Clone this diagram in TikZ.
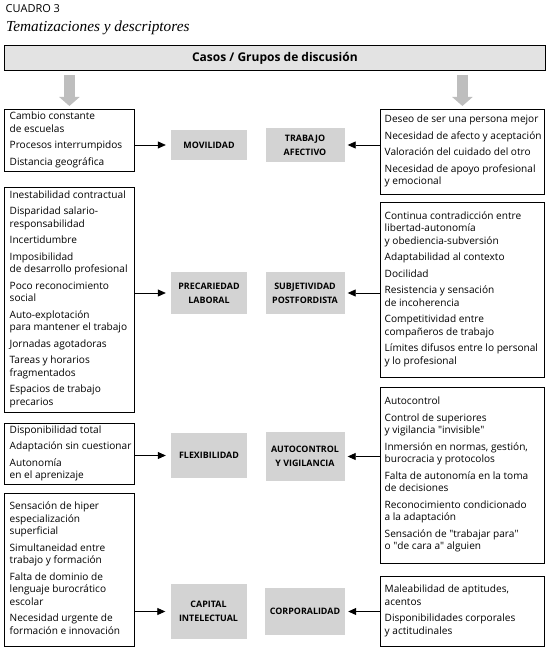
\documentclass[tikz,border=0pt]{standalone}
\usepackage{fontspec}
\setmainfont{Open Sans}
\newfontfamily\titlefont{Liberation Serif}
\usetikzlibrary{arrows.meta}
\definecolor{graybox}{RGB}{211,211,211}
\definecolor{headfill}{RGB}{227,227,227}
\definecolor{arrowgray}{RGB}{190,190,190}
\newcommand{\qd}{\textquotedbl}
\tikzset{
  listbox/.style={draw=black, line width=0.8pt, rectangle, inner sep=0pt, anchor=north west},
  listtext/.style={anchor=west, align=left, inner sep=0pt,
    font=\fontsize{10.1}{12.5}\selectfont,
    execute at begin node=\strut, execute at end node=\strut},
  themebox/.style={fill=graybox, draw=none, inner sep=0pt, align=center,
    font=\fontsize{8.9}{14}\selectfont\bfseries},
  link/.style={draw=black, line width=0.8pt, -{Triangle[length=8pt,width=7pt]}},
  bigarrow/.style={draw=arrowgray, line width=11pt, -{Triangle[length=9pt,width=20pt]}}
}
\begin{document}
\begin{tikzpicture}[x=1pt,y=-1pt]
\useasboundingbox (0,0) rectangle (550,652);
% titles
\node[anchor=base west, inner sep=0pt, font=\fontsize{11}{12}\selectfont] (cuadro) at (5.5,12.7) {CUADRO 3};
\node[anchor=base west, inner sep=0pt, font=\titlefont\itshape\fontsize{15.3}{18}\selectfont] (titulo) at (6,32) {Tematizaciones y descriptores};
% header
\node[draw=black, line width=0.8pt, fill=headfill, minimum width=541pt, minimum height=25.5pt,
  anchor=north west, inner sep=0pt, font=\bfseries\fontsize{12}{14}\selectfont] (head) at (4,45) {Casos / Grupos de discusión};
% left list boxes
\node[listbox, minimum width=130pt, minimum height=62pt] (L1) at (4,109) {};
\node[listbox, minimum width=130pt, minimum height=225pt] (L2) at (4,187) {};
\node[listbox, minimum width=130pt, minimum height=61pt] (L3) at (4,423) {};
\node[listbox, minimum width=130pt, minimum height=153pt] (L4) at (4,493) {};
% right list boxes
\node[listbox, minimum width=164pt, minimum height=85pt] (R1) at (380,109) {};
\node[listbox, minimum width=164pt, minimum height=175pt] (R2) at (380,202) {};
\node[listbox, minimum width=164pt, minimum height=176pt] (R3) at (380,387) {};
\node[listbox, minimum width=164pt, minimum height=70pt] (R4) at (380,576) {};
% list texts
\node[listtext] (L1t) at ([xshift=5.5pt]L1.west) {Cambio constante\\de escuelas\\[4pt]Procesos interrumpidos\\[4pt]Distancia geográfica};
\node[listtext] (L2t) at ([xshift=5.5pt]L2.west) {Inestabilidad contractual\\[4pt]Disparidad salario-\\responsabilidad\\[4pt]Incertidumbre\\[4pt]Imposibilidad\\de desarrollo profesional\\[4pt]Poco reconocimiento\\social\\[4pt]Auto-explotación\\para mantener el trabajo\\[4pt]Jornadas agotadoras\\[4pt]Tareas y horarios\\fragmentados\\[4pt]Espacios de trabajo\\precarios};
\node[listtext] (L3t) at ([xshift=5.5pt]L3.west) {Disponibilidad total\\[4pt]Adaptación sin cuestionar\\[4pt]Autonomía\\en el aprenizaje};
\node[listtext] (L4t) at ([xshift=5.5pt]L4.west) {Sensación de hiper\\especialización\\superficial\\[4pt]Simultaneidad entre\\trabajo y formación\\[4pt]Falta de dominio de\\lenguaje burocrático\\escolar\\[4pt]Necesidad urgente de\\formación e innovación};
\node[listtext] (R1t) at ([xshift=4.5pt]R1.west) {Deseo de ser una persona mejor\\[4pt]Necesidad de afecto y aceptación\\[4pt]Valoración del cuidado del otro\\[4pt]Necesidad de apoyo profesional\\y emocional};
\node[listtext] (R2t) at ([xshift=4.5pt]R2.west) {Continua contradicción entre\\libertad-autonomía\\y obediencia-subversión\\[4pt]Adaptabilidad al contexto\\[4pt]Docilidad\\[4pt]Resistencia y sensación\\de incoherencia\\[4pt]Competitividad entre\\compañeros de trabajo\\[4pt]Límites difusos entre lo personal\\y lo profesional};
\node[listtext] (R3t) at ([xshift=4.5pt]R3.west) {Autocontrol\\[4pt]Control de superiores\\y vigilancia \qd invisible\qd\\[4pt]Inmersión en normas, gestión,\\burocracia y protocolos\\[4pt]Falta de autonomía en la toma\\de decisiones\\[4pt]Reconocimiento condicionado\\a la adaptación\\[4pt]Sensación de \qd trabajar para\qd\\o \qd de cara a\qd{} alguien};
\node[listtext] (R4t) at ([xshift=4.5pt]R4.west) {Maleabilidad de aptitudes,\\acentos\\[4pt]Disponibilidades corporales\\y actitudinales};
% theme boxes
\node[themebox, minimum width=76pt, minimum height=30pt] (mov) at (209,145) {MOVILIDAD};
\node[themebox, minimum width=79pt, minimum height=34pt] (ta) at (305,145) {TRABAJO\\AFECTIVO};
\node[themebox, minimum width=76pt, minimum height=42pt] (pl) at (209,293) {PRECARIEDAD\\LABORAL};
\node[themebox, minimum width=79pt, minimum height=42pt] (sp) at (305,293) {SUBJETIVIDAD\\POSTFORDISTA};
\node[themebox, minimum width=76pt, minimum height=45pt] (flex) at (209,455.5) {FLEXIBILIDAD};
\node[themebox, minimum width=79pt, minimum height=49pt] (av) at (305,456.5) {AUTOCONTROL\\Y VIGILANCIA};
\node[themebox, minimum width=76pt, minimum height=55pt] (ci) at (208.5,611.5) {CAPITAL\\INTELECTUAL};
\node[themebox, minimum width=80pt, minimum height=47pt] (corp) at (305,611.5) {CORPORALIDAD};
% big gray arrows
\draw[bigarrow, shorten <=3.5pt, shorten >=3pt] (L1.north |- head.south) -- (L1.north);
\draw[bigarrow, shorten <=3.5pt, shorten >=3pt] (R1.north |- head.south) -- (R1.north);
% links
\draw[link, shorten >=5pt] (L1.east |- mov.west) -- (mov.west);
\draw[link, shorten >=5pt] (L2.east |- pl.west) -- (pl.west);
\draw[link, shorten >=5pt] (L3.east |- flex.west) -- (flex.west);
\draw[link, shorten >=5pt] (L4.east |- ci.west) -- (ci.west);
\draw[link, shorten >=3pt] (R1.west |- ta.east) -- (ta.east);
\draw[link, shorten >=3pt] (R2.west |- sp.east) -- (sp.east);
\draw[link, shorten >=3pt] (R3.west |- av.east) -- (av.east);
\draw[link, shorten >=3pt] (R4.west |- corp.east) -- (corp.east);
\end{tikzpicture}
\end{document}
